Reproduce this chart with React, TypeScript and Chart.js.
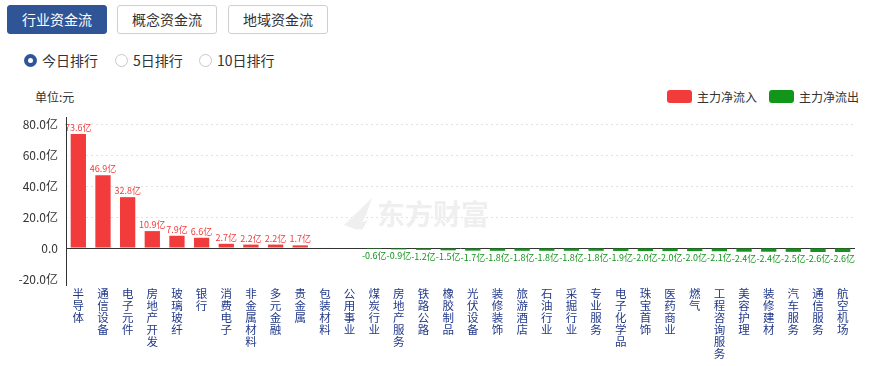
import React, { useEffect, useRef } from 'react';
import { Chart, registerables } from 'chart.js';

Chart.register(...registerables);

const categories = [
  '半导体', '通信设备', '电子元件', '房地产开发', '玻璃玻纤', '银行', '消费电子', '非金属材料',
  '多元金融', '贵金属', '包装材料', '公用事业', '煤炭行业', '房地产服务', '铁路公路', '橡胶制品',
  '光伏设备', '装修装饰', '旅游酒店', '石油行业', '采掘行业', '专业服务', '电子化学品', '珠宝首饰',
  '医药商业', '燃气', '工程咨询服务', '美容护理', '装修建材', '汽车服务', '通信服务', '航空机场',
];

const netFlow = [
  73.6, 46.9, 32.8, 10.9, 7.9, 6.6, 2.7, 2.2, 2.2, 1.7, 0.3, 0,
  -0.6, -0.9, -1.2, -1.5, -1.7, -1.8, -1.8, -1.8, -1.8, -1.8, -1.9, -2.0,
  -2.0, -2.0, -2.1, -2.4, -2.4, -2.5, -2.6, -2.6,
];

const yTicks = [-20, 0, 20, 40, 60, 80];
const seriesNames = ['主力净流入', '主力净流出'];
const tabs = ['行业资金流', '概念资金流', '地域资金流'];
const rankOptions = ['今日排行', '5日排行', '10日排行'];

const RED = '#f23b3b';
const GREEN = '#11961a';
const FONT = '"Noto Sans CJK SC", "Noto Sans", sans-serif';

const inflow = netFlow.map((v) => (v > 0 ? v : null));
const outflow = netFlow.map((v) => (v < 0 ? v : null));

const valueLabelPlugin = {
  id: 'valueLabels',
  afterDatasetsDraw(chart: any) {
    const ctx = chart.ctx;
    ctx.save();
    ctx.font = `9px ${FONT}`;
    ctx.textAlign = 'center';
    chart.data.datasets.forEach((ds: any, di: number) => {
      const meta = chart.getDatasetMeta(di);
      meta.data.forEach((el: any, i: number) => {
        const v = ds.data[i];
        if (v === null || Math.abs(v) < 0.5) return;
        const txt = v.toFixed(1) + '亿';
        if (v > 0) {
          ctx.fillStyle = RED;
          ctx.textBaseline = 'bottom';
          ctx.fillText(txt, el.x, el.y - 2);
        } else {
          ctx.fillStyle = GREEN;
          ctx.textBaseline = 'top';
          ctx.fillText(txt, el.x, el.y + 2);
        }
      });
    });
    ctx.restore();
  },
};

const axisLinePlugin = {
  id: 'axisLine',
  afterDraw(chart: any) {
    const { ctx, chartArea } = chart;
    ctx.save();
    ctx.strokeStyle = '#333333';
    ctx.lineWidth = 1;
    ctx.beginPath();
    const x = Math.round(chartArea.left) + 0.5;
    ctx.moveTo(x, chartArea.top - 7);
    ctx.lineTo(x, chartArea.bottom + 7);
    ctx.stroke();
    ctx.restore();
  },
};

const watermarkPlugin = {
  id: 'watermark',
  beforeDatasetsDraw(chart: any) {
    const ctx = chart.ctx;
    ctx.save();
    ctx.fillStyle = '#efefef';
    ctx.beginPath();
    ctx.moveTo(344, 145);
    ctx.lineTo(372, 118);
    ctx.lineTo(366, 135);
    ctx.lineTo(358, 150);
    ctx.closePath();
    ctx.fill();
    ctx.beginPath();
    ctx.moveTo(352, 146);
    ctx.lineTo(368, 140);
    ctx.lineTo(362, 150);
    ctx.closePath();
    ctx.fill();
    ctx.font = `bold 28px ${FONT}`;
    ctx.textBaseline = 'middle';
    ctx.textAlign = 'left';
    ctx.fillText('东方财富', 377, 134);
    ctx.restore();
  },
};

function ChartCanvas() {
  const ref = useRef<HTMLCanvasElement | null>(null);
  useEffect(() => {
    if (!ref.current) return;
    const chart = new Chart(ref.current, {
      type: 'bar',
      data: {
        labels: categories.map((c) => c.split('')),
        datasets: [
          {
            label: seriesNames[0],
            data: inflow as any,
            backgroundColor: RED,
            barPercentage: 0.62,
            categoryPercentage: 1,
          },
          {
            label: seriesNames[1],
            data: outflow as any,
            backgroundColor: GREEN,
            barPercentage: 0.62,
            categoryPercentage: 1,
          },
        ],
      },
      options: {
        animation: false,
        responsive: false,
        maintainAspectRatio: false,
        layout: { padding: { top: 44, right: 15, left: 0, bottom: 0 } },
        plugins: {
          legend: { display: false },
          tooltip: { enabled: false },
        },
        scales: {
          x: {
            stacked: true,
            grid: { display: false, drawTicks: false },
            border: { display: false },
            ticks: {
              autoSkip: false,
              maxRotation: 0,
              minRotation: 0,
              padding: 9,
              color: '#22398a',
              font: { family: FONT, size: 11.5, lineHeight: 1.04 },
            },
            afterFit(scale: any) {
              scale.height = 87;
            },
          },
          y: {
            stacked: true,
            min: -20,
            max: 80,
            afterBuildTicks(scale: any) {
              scale.ticks = yTicks.map((v) => ({ value: v }));
            },
            afterFit(scale: any) {
              scale.width = 66;
            },
            grid: {
              color: (c: any) => (c.tick && c.tick.value === 0 ? '#333333' : c.tick && c.tick.value === -20 ? 'rgba(0,0,0,0)' : '#e2e2e2'),
              lineWidth: 1,
              drawTicks: false,
            },
            border: {
              display: false,
              dash: (c: any) => (c.tick && c.tick.value === 0 ? [] : [2, 3]),
            } as any,
            ticks: {
              padding: 8,
              color: '#333333',
              font: { family: FONT, size: 12 },
              callback: (v: any) => (Number(v) === 0 ? '0.0' : Number(v).toFixed(1) + '亿'),
            },
          },
        },
      },
      plugins: [watermarkPlugin, valueLabelPlugin, axisLinePlugin],
    });
    return () => chart.destroy();
  }, []);
  return (
    <canvas
      ref={ref}
      width={870}
      height={286}
      style={{ position: 'absolute', left: 0, top: 80, width: 870, height: 286 }}
    />
  );
}

export default function App() {
  useEffect(() => {
    document.body.style.margin = '0';
  }, []);
  const tabLeft = [7, 117, 228];
  const radioLeft = [24, 115, 199];
  return (
    <div style={{ position: 'relative', width: 870, height: 366, background: '#fff', fontFamily: FONT, overflow: 'hidden' }}>
      {tabs.map((t, i) => (
        <div
          key={t}
          style={{
            position: 'absolute',
            left: tabLeft[i],
            top: 5,
            width: 100,
            height: 29,
            boxSizing: 'border-box',
            borderRadius: 3,
            border: i === 0 ? '1px solid #2f5597' : '1px solid #cfcfcf',
            background: i === 0 ? '#2f5597' : '#fff',
            color: i === 0 ? '#fff' : '#333',
            fontSize: 14,
            lineHeight: '27px',
            textAlign: 'center',
          }}
        >
          {t}
        </div>
      ))}
      {rankOptions.map((r, i) => (
        <div key={r} style={{ position: 'absolute', left: radioLeft[i], top: 50, height: 20, display: 'flex', alignItems: 'center' }}>
          <span
            style={{
              display: 'inline-block',
              width: 13,
              height: 13,
              boxSizing: 'border-box',
              borderRadius: '50%',
              border: i === 0 ? '4px solid #2f5597' : '1px solid #c8c8c8',
              background: '#fff',
              marginRight: 5,
            }}
          />
          <span style={{ fontSize: 14, color: '#333' }}>{r}</span>
        </div>
      ))}
      <div style={{ position: 'absolute', left: 35, top: 88, fontSize: 12, color: '#333' }}>单位:元</div>
      <div style={{ position: 'absolute', left: 667, top: 88, display: 'flex', alignItems: 'center', fontSize: 12, color: '#333' }}>
        <span style={{ display: 'inline-block', width: 25, height: 13, borderRadius: 3, background: RED, marginRight: 5 }} />
        <span style={{ marginRight: 12 }}>{seriesNames[0]}</span>
        <span style={{ display: 'inline-block', width: 25, height: 13, borderRadius: 3, background: GREEN, marginRight: 5 }} />
        <span>{seriesNames[1]}</span>
      </div>
      <ChartCanvas />
    </div>
  );
}
